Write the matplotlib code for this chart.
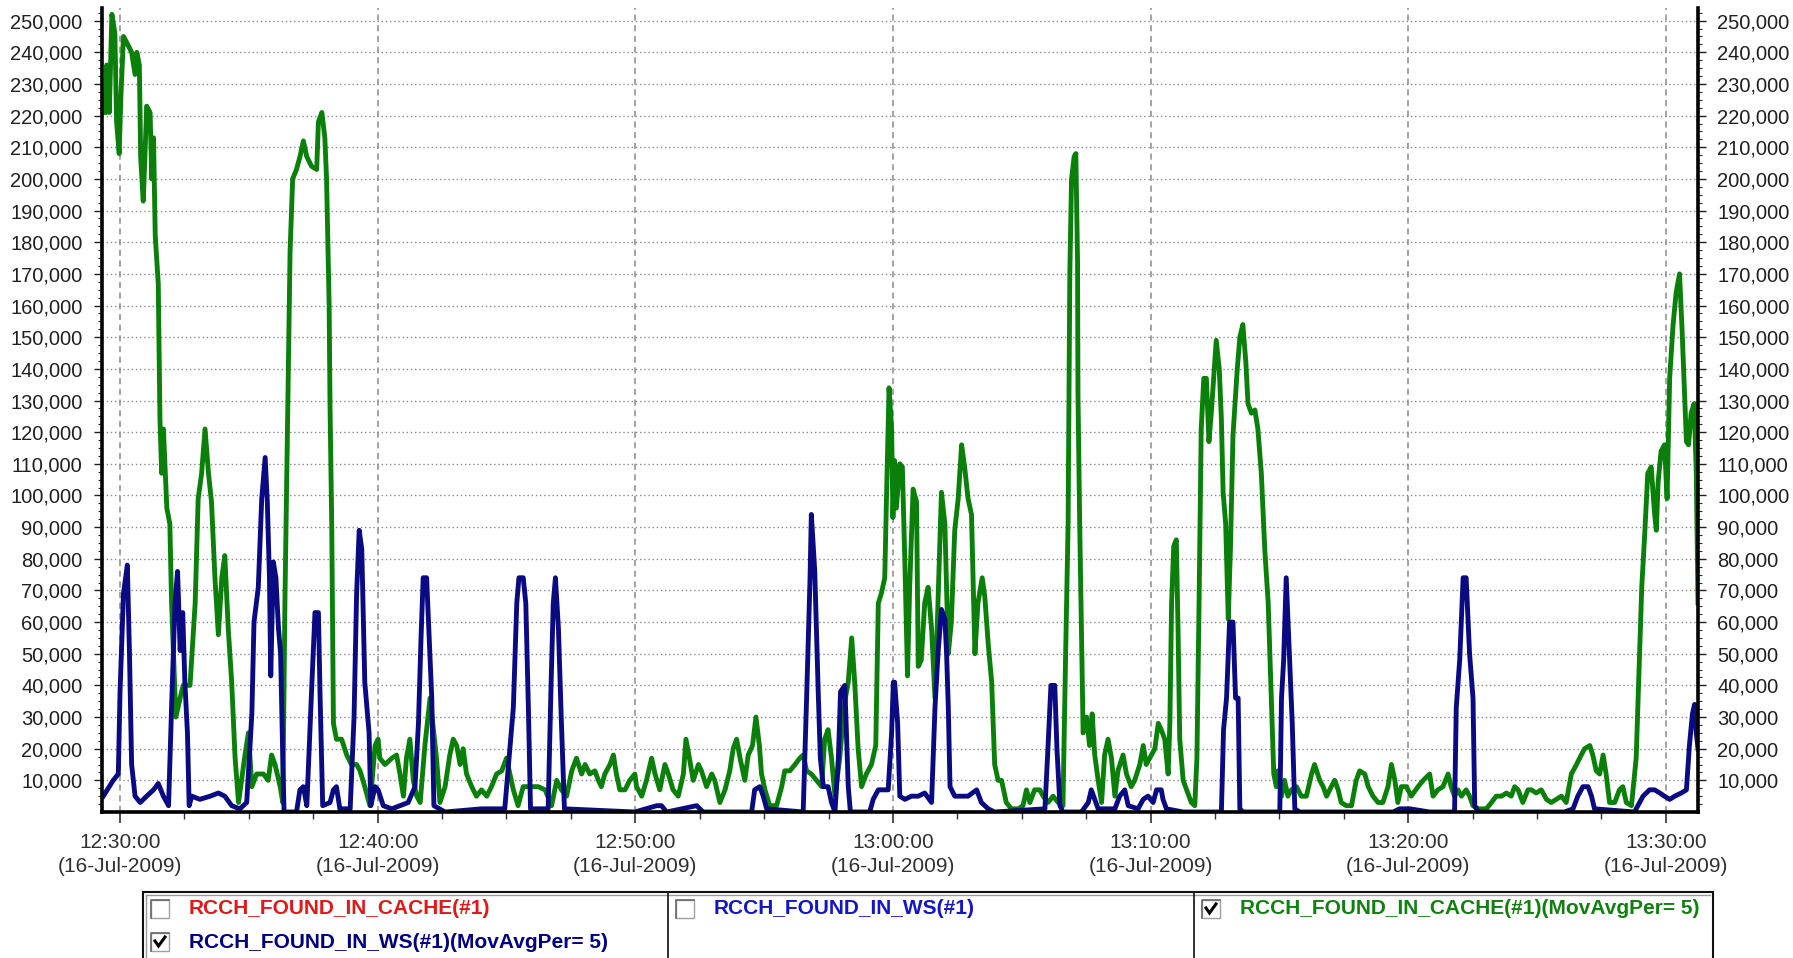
import matplotlib
matplotlib.use("Agg")
import matplotlib.pyplot as plt
from matplotlib.patches import Rectangle
from matplotlib.lines import Line2D
from matplotlib.ticker import FixedLocator, FuncFormatter

# ---------------- data (time in seconds after 12:30:00, values in thousands) ----------------
cache_avg_t = [
    -35, -31, -25, -19, -12, -8, -2, 2, 8, 16,
    27, 35, 39, 45, 48, 54, 58, 62, 70, 74,
    78, 82, 89, 93, 97, 101, 109, 116, 120, 130,
    140, 147, 163, 175, 182, 190, 198, 206, 213, 221,
    229, 237, 244, 252, 260, 268, 276, 283, 291, 299,
    307, 318, 334, 345, 353, 361, 373, 379, 384, 392,
    396, 402, 411, 419, 427, 435, 446, 458, 462, 470,
    477, 481, 487, 489, 493, 497, 504, 516, 528, 539,
    551, 559, 570, 582, 594, 601, 605, 617, 633, 644,
    652, 660, 667, 675, 683, 691, 699, 710, 722, 730,
    737, 745, 757, 768, 776, 784, 792, 799, 807, 819,
    830, 842, 854, 865, 877, 889, 900, 908, 916, 927,
    939, 951, 962, 974, 990, 1005, 1017, 1028, 1040, 1052,
    1063, 1075, 1083, 1094, 1106, 1114, 1121, 1129, 1141, 1149,
    1156, 1164, 1176, 1187, 1199, 1203, 1215, 1226, 1238, 1246,
    1257, 1269, 1277, 1288, 1300, 1312, 1318, 1326, 1335, 1347,
    1354, 1366, 1378, 1385, 1397, 1409, 1420, 1428, 1436, 1444,
    1455, 1463, 1473, 1481, 1489, 1494, 1502, 1513, 1529, 1541,
    1548, 1560, 1572, 1583, 1591, 1599, 1610, 1622, 1634, 1641,
    1649, 1657, 1665, 1676, 1688, 1696, 1704, 1711, 1719, 1727,
    1738, 1750, 1760, 1766, 1773, 1781, 1785, 1791, 1797, 1800,
    1804, 1808, 1816, 1822, 1828, 1834, 1839, 1847, 1855, 1859,
    1866, 1874, 1882, 1890, 1898, 1905, 1913, 1921, 1929, 1936,
    1944, 1952, 1960, 1967, 1975, 1983, 1991, 1998, 2008, 2014,
    2022, 2030, 2037, 2045, 2053, 2064, 2076, 2092, 2103, 2111,
    2119, 2130, 2142, 2150, 2161, 2173, 2185, 2196, 2202, 2208,
    2212, 2216, 2222, 2226, 2230, 2231, 2235, 2239, 2243, 2251,
    2258, 2264, 2270, 2278, 2286, 2293, 2301, 2309, 2317, 2324,
    2336, 2344, 2355, 2363, 2375, 2383, 2390, 2402, 2410, 2418,
    2425, 2433, 2441, 2445, 2449, 2454, 2460, 2464, 2468, 2476,
    2484, 2495, 2503, 2508, 2513, 2518, 2524, 2530, 2536, 2542,
    2547, 2553, 2560, 2565, 2569, 2575, 2581, 2586, 2592, 2602,
    2608, 2615, 2622, 2627, 2635, 2643, 2650, 2658, 2666, 2674,
    2680, 2687, 2693, 2697, 2705, 2712, 2720, 2728, 2740, 2751,
    2763, 2775, 2782, 2794, 2802, 2810, 2821, 2829, 2837, 2844,
    2856, 2868, 2879, 2887, 2899, 2907, 2918, 2930, 2941, 2953,
    2961, 2969, 2976, 2984, 2996, 3007, 3023, 3035, 3050, 3058,
    3069, 3081, 3093, 3100, 3108, 3116, 3124, 3135, 3143, 3151,
    3163, 3182, 3194, 3205, 3217, 3229, 3240, 3248, 3256, 3267,
    3279, 3287, 3298, 3310, 3322, 3333, 3345, 3357, 3368, 3380,
    3392, 3403, 3411, 3423, 3430, 3438, 3446, 3454, 3461, 3469,
    3481, 3492, 3500, 3508, 3520, 3531, 3539, 3544, 3551, 3558,
    3566, 3574, 3578, 3582, 3589, 3597, 3603, 3609, 3617, 3624,
    3632, 3638, 3644, 3648, 3653, 3659, 3666, 3671, 3675,
]
cache_avg_k = [
    221, 236, 221, 252, 246, 218, 208, 226, 245, 243,
    240, 233, 240, 236, 207, 193, 207, 223, 221, 200,
    213, 182, 167, 124, 107, 121, 96, 91, 66, 30,
    36, 40, 40, 66, 99, 107, 121, 107, 98, 74,
    56, 74, 81, 58, 41, 17, 3, 10, 18, 25,
    8, 12, 12, 10, 18, 15, 8, 3, 66, 139,
    177, 200, 203, 207, 212, 207, 204, 203, 218, 221,
    213, 200, 160, 129, 91, 28, 23, 23, 18, 15,
    15, 13, 8, 2, 21, 23, 17, 15, 17, 18,
    12, 5, 17, 23, 10, 5, 3, 21, 36, 26,
    17, 3, 8, 18, 23, 21, 15, 20, 12, 8,
    5, 7, 5, 8, 12, 13, 17, 12, 7, 2,
    8, 8, 8, 8, 7, 2, 10, 7, 5, 13,
    17, 12, 15, 12, 13, 10, 8, 12, 15, 18,
    12, 7, 7, 10, 12, 8, 5, 10, 17, 12,
    7, 15, 12, 7, 5, 12, 23, 17, 10, 15,
    13, 8, 12, 10, 3, 7, 13, 20, 23, 17,
    10, 18, 21, 30, 21, 12, 7, 2, 2, 8,
    13, 13, 15, 17, 18, 13, 12, 10, 8, 23,
    26, 17, 5, 17, 35, 41, 55, 41, 20, 8,
    12, 15, 21, 66, 69, 74, 99, 134, 121, 93,
    111, 96, 110, 109, 78, 43, 71, 102, 98, 46,
    48, 66, 71, 58, 36, 66, 101, 91, 50, 60,
    89, 99, 116, 109, 99, 94, 50, 66, 74, 68,
    53, 41, 15, 10, 10, 3, 1, 1, 2, 7,
    3, 7, 7, 5, 3, 5, 3, 2, 48, 91,
    170, 200, 207, 208, 174, 132, 91, 58, 25, 30,
    21, 31, 18, 10, 3, 18, 23, 17, 5, 13,
    18, 12, 8, 10, 15, 21, 15, 18, 20, 28,
    26, 23, 12, 28, 66, 84, 86, 58, 23, 10,
    7, 3, 2, 17, 66, 121, 137, 137, 117, 127,
    137, 149, 140, 124, 101, 91, 61, 83, 119, 140,
    150, 154, 142, 129, 126, 127, 121, 107, 83, 66,
    41, 12, 8, 13, 5, 10, 5, 7, 8, 5,
    5, 12, 15, 10, 8, 5, 8, 10, 7, 3,
    2, 2, 10, 13, 12, 8, 5, 3, 3, 8,
    15, 10, 3, 8, 8, 5, 8, 10, 12, 5,
    7, 8, 12, 8, 5, 7, 5, 7, 5, 2,
    1, 1, 3, 5, 5, 6, 5, 8, 7, 3,
    7, 7, 6, 7, 4, 3, 4, 5, 3, 12,
    15, 18, 20, 21, 18, 13, 12, 18, 12, 3,
    3, 7, 8, 3, 2, 17, 50, 71, 88, 107,
    109, 94, 89, 104, 114, 116, 99, 137, 154, 164,
    170, 152, 131, 117, 116, 126, 129, 107, 66,
]

ws_avg_t = [
    -39, -16, -4, 0, 8, 17, 22, 27, 35, 47,
    62, 78, 89, 101, 113, 120, 128, 134, 140, 146,
    151, 157, 161, 167, 186, 210, 229, 244, 260, 279,
    295, 307, 312, 322, 330, 338, 343, 348, 351, 357,
    363, 369, 374, 379, 382, 411, 419, 427, 435, 446,
    454, 462, 466, 472, 489, 497, 504, 512, 536, 545,
    551, 557, 563, 570, 580, 584, 594, 601, 613, 633,
    671, 687, 695, 701, 706, 714, 719, 726, 731, 757,
    842, 896, 916, 924, 929, 939, 945, 951, 956, 997,
    1004, 1009, 1014, 1021, 1028, 1035, 1199, 1250, 1261, 1273,
    1343, 1358, 1471, 1478, 1490, 1498, 1506, 1591, 1599, 1607,
    1610, 1618, 1626, 1631, 1638, 1649, 1657, 1665, 1673, 1678,
    1688, 1696, 1701, 1746, 1754, 1766, 1777, 1789, 1797, 1801,
    1804, 1811, 1816, 1828, 1843, 1859, 1874, 1890, 1898, 1905,
    1913, 1921, 1925, 1929, 1933, 1944, 1975, 1995, 2006, 2022,
    2037, 2154, 2161, 2168, 2177, 2182, 2189, 2196, 2239, 2255,
    2262, 2270, 2278, 2317, 2328, 2340, 2348, 2371, 2383, 2394,
    2406, 2414, 2425, 2429, 2437, 2476, 2565, 2570, 2577, 2584,
    2592, 2598, 2604, 2608, 2615, 2701, 2705, 2710, 2716, 2724,
    2730, 2736, 2747, 2965, 2980, 3004, 3050, 3108, 3112, 3120,
    3128, 3135, 3143, 3151, 3155, 3163, 3364, 3384, 3395, 3407,
    3419, 3427, 3434, 3527, 3535, 3547, 3562, 3574, 3586, 3597,
    3609, 3621, 3636, 3648, 3655, 3662, 3667, 3671, 3675,
]
ws_avg_k = [
    5, 10, 12, 38, 69, 78, 50, 15, 5, 3,
    5, 7, 9, 5, 2, 33, 66, 76, 51, 63,
    41, 25, 2, 5, 4, 5, 6, 5, 2, 1,
    3, 31, 60, 71, 99, 112, 98, 74, 43, 79,
    74, 58, 50, 17, 0, 0, 7, 8, 2, 38,
    63, 63, 36, 2, 3, 7, 8, 1, 1, 30,
    69, 89, 83, 41, 25, 2, 8, 7, 2, 1,
    3, 8, 28, 55, 74, 74, 58, 36, 2, 0,
    1, 1, 33, 66, 74, 74, 66, 33, 1, 1,
    41, 66, 74, 58, 28, 1, 0, 2, 2, 0,
    2, 0, 0, 7, 8, 5, 1, 0, 36, 74,
    94, 76, 38, 17, 8, 8, 3, 0, 17, 38,
    40, 8, 0, 0, 4, 7, 7, 7, 25, 41,
    41, 28, 5, 4, 5, 5, 6, 3, 33, 50,
    64, 61, 50, 33, 8, 5, 5, 7, 3, 1,
    0, 1, 20, 40, 40, 20, 2, 0, 0, 3,
    7, 4, 1, 1, 5, 7, 2, 1, 4, 5,
    3, 7, 7, 4, 1, 0, 0, 26, 36, 60,
    60, 36, 36, 1, 0, 0, 36, 48, 74, 48,
    28, 1, 0, 0, 1, 1, 0, 0, 33, 48,
    74, 74, 50, 36, 2, 0, 0, 1, 5, 8,
    8, 5, 1, 0, 2, 5, 7, 7, 6, 5,
    4, 5, 6, 7, 21, 31, 34, 25, 20,
]

tick_clock = ["12:30:00", "12:40:00", "12:50:00", "13:00:00", "13:10:00", "13:20:00", "13:30:00"]
tick_date = "16-Jul-2009"

legend_entries = [
    # (label, colour, checked, column, row)
    ("RCCH_FOUND_IN_CACHE(#1)", "#e01818", False, 0, 0),
    ("RCCH_FOUND_IN_WS(#1)(MovAvgPer= 5)", "#000080", True, 0, 1),
    ("RCCH_FOUND_IN_WS(#1)", "#1515c8", False, 1, 0),
    ("RCCH_FOUND_IN_CACHE(#1)(MovAvgPer= 5)", "#108010", True, 2, 0),
]

# ---------------- figure ----------------
W, H, DPI = 1793, 958, 100
plt.rcParams['font.family'] = ['Liberation Sans', 'DejaVu Sans']
fig = plt.figure(figsize=(W / DPI, H / DPI), dpi=DPI, facecolor='white')


def fx(x):
    return x / W


def fy(y):
    return 1 - y / H


ax_l, ax_r, ax_t, ax_b = 102, 1698, 8, 812
ax = fig.add_axes([fx(ax_l), fy(ax_b), (ax_r - ax_l) / W, (ax_b - ax_t) / H])
ax.set_facecolor('white')

ax.plot(cache_avg_t, [v * 1000 for v in cache_avg_k], color='#0a800a', lw=3.5,
        solid_joinstyle='round', zorder=3)
ax.plot(ws_avg_t, [v * 1000 for v in ws_avg_k], color='#0a0a82', lw=3.5,
        solid_joinstyle='round', zorder=4)


def clock_to_sec(s):
    h, m, sec = (int(p) for p in s.split(':'))
    return h * 3600 + m * 60 + sec


t0 = clock_to_sec(tick_clock[0])
xt = [clock_to_sec(s) - t0 for s in tick_clock]
ax.set_xlim(-42, 3675)
ax.set_ylim(0, 254000)

ax.xaxis.set_major_locator(FixedLocator(xt))
ax.set_xticklabels([f"{c}\n({tick_date})" for c in tick_clock])
ax.xaxis.set_minor_locator(FixedLocator([x for x in range(-150, 3700, 150) if x not in xt and -42 < x < 3675]))
ax.yaxis.set_major_locator(FixedLocator(list(range(10000, 250001, 10000))))
ax.yaxis.set_minor_locator(FixedLocator(list(range(2500, 254000, 2500))))
ax.yaxis.set_major_formatter(FuncFormatter(lambda v, p: f"{int(v):,}"))

for lab in ax.get_xticklabels():
    lab.set_linespacing(1.35)

ax.tick_params(axis='x', which='major', direction='out', length=8, width=1.2,
               labelsize=15, pad=7, colors='#303030')
ax.tick_params(axis='x', which='minor', direction='out', length=5, width=1.0, color='#303030')
ax.tick_params(axis='y', which='major', direction='out', length=6, width=1.0,
               labelsize=14.5, left=True, right=True, labelleft=True, labelright=True,
               pad=8, colors='#202020')
ax.tick_params(axis='y', which='minor', direction='out', length=3, width=0.8,
               left=True, right=True, color='#303030')

ax.grid(axis='y', which='major', linestyle=(0, (1, 2)), color='#8a8a8a', lw=1.0, zorder=1)
ax.grid(axis='x', which='major', linestyle=(0, (4, 3)), color='#8a8a8a', lw=1.1, zorder=1)
ax.set_axisbelow(True)

ax.spines['top'].set_visible(False)
for side in ('left', 'right', 'bottom'):
    ax.spines[side].set_linewidth(2.6)
    ax.spines[side].set_color('black')
    ax.spines[side].set_zorder(6)

# ---------------- legend panel ----------------
lg_l, lg_r, lg_t, lg_b = 143, 1713, 892, 975
col_edges = [lg_l, 668, 1194, lg_r]
row_y = [909, 942]

fig.add_artist(Rectangle((fx(lg_l), fy(lg_b)), (lg_r - lg_l) / W, (lg_b - lg_t) / H,
                         transform=fig.transFigure, facecolor='white', edgecolor='#101010',
                         lw=1.5, zorder=1))
fig.add_artist(Line2D([fx(lg_l + 3), fx(lg_l + 3)], [fy(lg_t + 3), fy(lg_b)],
                      transform=fig.transFigure, color='#9a9a9a', lw=1.0))
fig.add_artist(Line2D([fx(lg_l + 3), fx(lg_r - 3)], [fy(lg_t + 3), fy(lg_t + 3)],
                      transform=fig.transFigure, color='#9a9a9a', lw=1.0))
for xe in col_edges[1:-1]:
    fig.add_artist(Line2D([fx(xe), fx(xe)], [fy(lg_t), fy(lg_b)],
                          transform=fig.transFigure, color='#202020', lw=1.3))

box = 18
for label, colour, checked, col, row in legend_entries:
    bx = col_edges[col] + 8
    by = row_y[row] - box / 2
    fig.add_artist(Rectangle((fx(bx), fy(by + box)), box / W, box / H,
                             transform=fig.transFigure, facecolor='white',
                             edgecolor='#a0a0a0', lw=1.0, zorder=3))
    fig.add_artist(Line2D([fx(bx), fx(bx), fx(bx + box)], [fy(by + box), fy(by), fy(by)],
                          transform=fig.transFigure, color='#707070', lw=1.3, zorder=4))
    if checked:
        fig.add_artist(Line2D([fx(bx + 4), fx(bx + 7.5), fx(bx + 14)],
                              [fy(by + 8), fy(by + 13), fy(by + 4)],
                              transform=fig.transFigure, color='black', lw=2.2,
                              solid_joinstyle='miter', zorder=5))
    fig.text(fx(bx + 38), fy(row_y[row]), label, color=colour, fontsize=15,
             fontweight='bold', ha='left', va='center')

fig.savefig("out.png", dpi=DPI, facecolor='white')
